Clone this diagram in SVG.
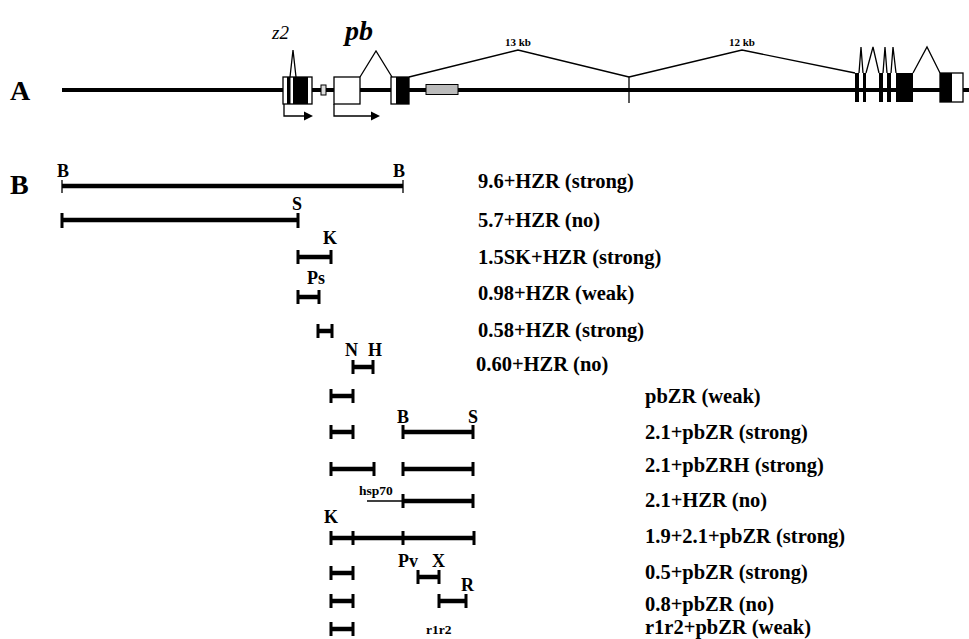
<svg xmlns="http://www.w3.org/2000/svg" width="969" height="639" viewBox="0 0 969 639">
<style>
text{font-family:"Liberation Serif","Times New Roman",serif;font-weight:bold;fill:#000}
.lbl{font-size:20.5px}
.sm{font-size:18px}
.tiny{font-size:11px}
.big{font-size:28px}
.bar{stroke:#000;stroke-width:4.5;fill:none}
.tk{stroke:#000;stroke-width:3;fill:none}
.thin{stroke:#000;stroke-width:1.3;fill:none}
.ex{stroke:#000;stroke-width:1.3;fill:#fff}
.blk{fill:#000}
</style>
<rect width="969" height="639" fill="#fff"/>
<text class="big" x="10" y="100">A</text>
<text class="big" x="10" y="194">B</text>
<g id="genemap">
<line x1="62" y1="90" x2="969" y2="90" stroke="#000" stroke-width="4"/>
<g id="z2">
<text x="272" y="39" style="font-size:19px;font-style:italic;font-weight:normal">z2</text>
<rect class="ex" x="283" y="77" width="29" height="27"/>
<rect class="blk" x="287" y="77" width="3.5" height="27"/>
<rect class="blk" x="293" y="77" width="15" height="27"/>
<polyline class="thin" points="290,77 293,50 296,77"/>
<path class="thin" d="M284 104V116H305"/>
<polygon class="blk" points="304,111.5 313,116 304,120.5"/>
</g>
<rect id="smallbox" x="321" y="85" width="5" height="10" fill="#ddd" stroke="#000" stroke-width="1"/>
<g id="pb">
<text x="345" y="40" style="font-size:28px;font-style:italic">pb</text>
<rect class="ex" x="334" y="77" width="26" height="27"/>
<polyline class="thin" points="360,77 376,51 392,77"/>
<path class="thin" d="M334 104V116H372"/>
<polygon class="blk" points="371,111.5 380,116 371,120.5"/>
<rect class="ex" x="391" y="77" width="18" height="27"/>
<rect class="blk" x="396" y="77" width="13" height="27"/>
</g>
<rect id="graybox" x="426" y="84.5" width="32" height="10" fill="#bbb" stroke="#000" stroke-width="1"/>
<g id="introns">
<polyline class="thin" points="409,77 518,50 629,77"/>
<line class="thin" x1="629" y1="77" x2="629" y2="103"/>
<text class="tiny" x="518" y="46" text-anchor="middle">13 kb</text>
<polyline class="thin" points="629,77 742,50 855,73"/>
<text class="tiny" x="742" y="46" text-anchor="middle">12 kb</text>
<polyline class="thin" points="859,73 861,47 863,73"/>
<polyline class="thin" points="866,73 873,47 879,73"/>
<polyline class="thin" points="883,73 885,47 887,73"/>
<polyline class="thin" points="891,73 893,47 896,73"/>
<polyline class="thin" points="913,73 927,47 940,73"/>
</g>
<g id="rightexons">
<rect class="blk" x="855" y="73" width="4" height="29"/>
<rect class="blk" x="863" y="73" width="3" height="29"/>
<rect class="blk" x="879" y="73" width="4" height="29"/>
<rect class="blk" x="887" y="73" width="4" height="29"/>
<rect class="blk" x="896" y="73" width="17" height="29"/>
<rect class="ex" x="940" y="73" width="23" height="29"/>
<rect class="blk" x="940" y="73" width="12" height="29"/>
</g>
</g>
<g id="connectors">
<g id="row1"><path class="bar" d="M62 186H403"/><path class="thin" stroke-width="2" d="M62 180V193M403 180V193"/><text class="sm" x="57" y="177">B</text><text class="sm" x="393" y="177">B</text><text class="lbl" x="478" y="188">9.6+HZR (strong)</text></g>
<g id="row2"><path class="bar" d="M62 220H298"/><path class="tk" d="M62 213V228M298 213V228"/><text class="sm" x="292" y="210">S</text><text class="lbl" x="478" y="227">5.7+HZR (no)</text></g>
<g id="row3"><path class="bar" d="M298 257H331"/><path class="tk" d="M298 250V264M331 250V264"/><text class="sm" x="323" y="244">K</text><text class="lbl" x="478" y="264">1.5SK+HZR (strong)</text></g>
<g id="row4"><path class="bar" d="M298 297H319"/><path class="tk" d="M298 290V304M319 290V304"/><text class="sm" x="307" y="284">Ps</text><text class="lbl" x="478" y="300">0.98+HZR (weak)</text></g>
<g id="row5"><path class="bar" d="M318 331H332"/><path class="tk" d="M318 324V338M332 324V338"/><text class="lbl" x="478" y="337">0.58+HZR (strong)</text></g>
<g id="row6"><path class="bar" d="M353 367H373"/><path class="tk" d="M353 360V374M373 360V374"/><text class="sm" x="345" y="356">N</text><text class="sm" x="368" y="356">H</text><text class="lbl" x="476" y="371">0.60+HZR (no)</text></g>
<g id="row7"><path class="bar" d="M331 396H353"/><path class="tk" d="M331 389V403M353 389V403"/><text class="lbl" x="645" y="403">pbZR (weak)</text></g>
<g id="row8"><path class="bar" d="M331 432H353M403 432H473"/><path class="tk" d="M331 425V439M353 425V439M403 425V439M473 425V439"/><text class="sm" x="397" y="423">B</text><text class="sm" x="468" y="423">S</text><text class="lbl" x="645" y="439">2.1+pbZR (strong)</text></g>
<g id="row9"><path class="bar" d="M331 469H374M403 469H473"/><path class="tk" d="M331 462V476M374 462V476M403 462V476M473 462V476"/><text class="lbl" x="645" y="472">2.1+pbZRH (strong)</text></g>
<g id="row10"><path class="thin" stroke-width="2" d="M367 501H403"/><path class="bar" d="M403 501H473"/><path class="tk" d="M403 494V508M473 494V508"/><text x="359" y="495" style="font-size:13.5px">hsp70</text><text class="lbl" x="645" y="507">2.1+HZR (no)</text></g>
<g id="row11"><path class="bar" d="M331 538H474"/><path class="tk" d="M331 531V545M353 531V545M403 531V545M474 531V545"/><text class="sm" x="324" y="523">K</text><text class="lbl" x="645" y="543">1.9+2.1+pbZR (strong)</text></g>
<g id="row12"><path class="bar" d="M331 573H353M418 577H439"/><path class="tk" d="M331 566V580M353 566V580M418 570V584M439 570V584"/><text class="sm" x="398" y="567">Pv</text><text class="sm" x="432" y="567">X</text><text class="lbl" x="645" y="579">0.5+pbZR (strong)</text></g>
<g id="row13"><path class="bar" d="M331 601H353M439 601H466"/><path class="tk" d="M331 594V608M353 594V608M439 594V608M466 594V608"/><text class="sm" x="461" y="591">R</text><text class="lbl" x="645" y="611">0.8+pbZR (no)</text></g>
<g id="row14"><path class="bar" d="M331 629H353"/><path class="tk" d="M331 622V636M353 622V636"/><text x="426" y="634" style="font-size:13.5px">r1r2</text><text class="lbl" x="645" y="634">r1r2+pbZR (weak)</text></g>
</g>
</svg>
